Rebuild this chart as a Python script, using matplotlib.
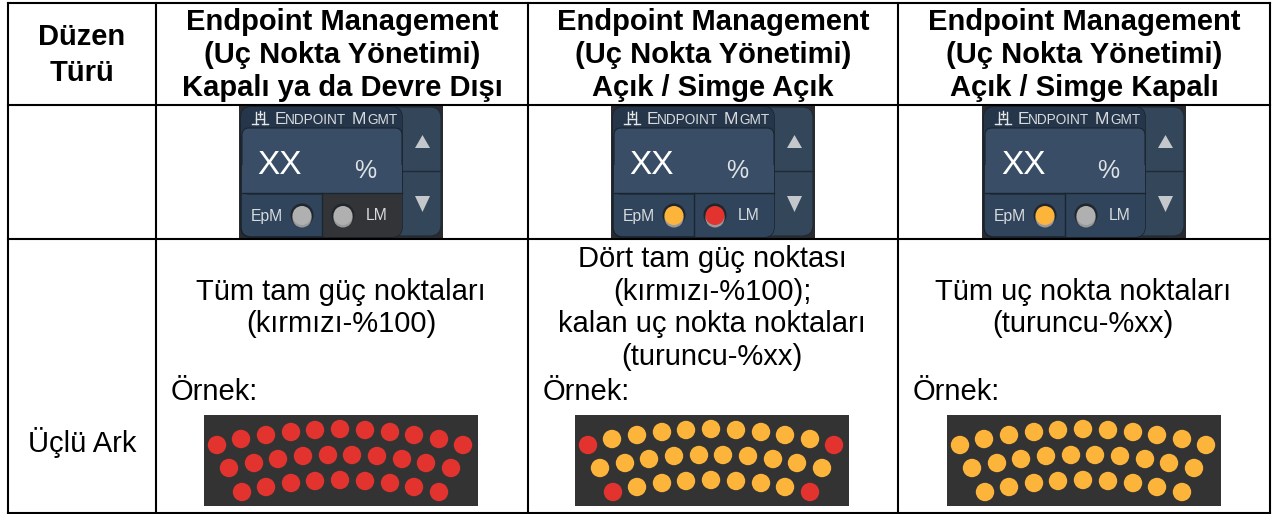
import matplotlib
matplotlib.use("Agg")
import matplotlib.pyplot as plt
from matplotlib.patches import FancyBboxPatch, Rectangle, Circle, Polygon

plt.rcParams["font.family"] = ["Liberation Sans", "DejaVu Sans"]

W, H = 1273, 514

# table grid (pixels)
col_x = [8, 156, 528, 898, 1270]
row_y = [3, 105, 239, 513]

col_titles = [
    "Düzen\nTürü",
    "Endpoint Management\n(Uç Nokta Yönetimi)\nKapalı ya da Devre Dışı",
    "Endpoint Management\n(Uç Nokta Yönetimi)\nAçık / Simge Açık",
    "Endpoint Management\n(Uç Nokta Yönetimi)\nAçık / Simge Kapalı",
]
title_spacing = [1.32, 1.24, 1.24, 1.24]
row_label = "Üçlü Ark"
descriptions = [
    "Tüm tam güç noktaları\n(kırmızı-%100)",
    "Dört tam güç noktası\n(kırmızı-%100);\nkalan uç nokta noktaları\n(turuncu-%xx)",
    "Tüm uç nokta noktaları\n(turuncu-%xx)",
]
example_label = "Örnek:"

# indicator lights of the widget: EpM, LM
GREY = "#b0b0b0"
ORANGE = "#fdb43a"
RED = "#e2332f"
widget_lights = [(GREY, GREY), (ORANGE, RED), (ORANGE, GREY)]
lm_panel = ["#333438", "#30445c", "#30445c"]

# dot positions in the arc picture, relative to its top left corner
row1_x = [13, 37, 62, 87, 111, 136, 161, 186, 210, 235, 259]
row1_y = [30, 24, 20, 17, 15, 14, 15, 17, 20, 24, 30]
row2_x = [25, 50, 74, 99, 124, 148, 173, 198, 222, 247]
row2_y = [53, 48, 44, 41, 40, 40, 41, 44, 48, 53]
row3_x = [38, 62, 87, 111, 136, 161, 186, 210, 235]
row3_y = [77, 72, 68, 66, 65, 66, 68, 72, 77]

# which dots are full power in each arc picture
red_all = [(r, i) for r, n in enumerate([11, 10, 9]) for i in range(n)]
red_corners = [(0, 0), (0, 10), (2, 0), (2, 8)]
red_none = []
arc_red = [red_all, red_corners, red_none]

arc_left = [204, 575, 947]
arc_top = 415
arc_w, arc_h = 274, 91
widget_left = [239, 611, 982]
widget_top = 105


def draw_widget(ax, x0, y0, lights, lm_color):
    ax.add_patch(Rectangle((x0, y0), 204, 133, fc="#2a2b2e", ec="none", zorder=2))
    # back plate with the arrows
    ax.add_patch(FancyBboxPatch((x0 + 60, y0 + 2), 142, 129, boxstyle="round,pad=0,rounding_size=11",
                                fc="#33465a", ec="#1f2a36", lw=0.8, zorder=3))
    ax.plot([x0 + 160, x0 + 202], [y0 + 66, y0 + 66], color="#1f2a36", lw=1, zorder=3)
    ax.add_patch(Polygon([(x0 + 176, y0 + 43), (x0 + 191, y0 + 43), (x0 + 183.5, y0 + 30)],
                         fc="#c4c8cc", ec="none", zorder=4))
    ax.add_patch(Polygon([(x0 + 176, y0 + 91), (x0 + 191, y0 + 91), (x0 + 183.5, y0 + 107)],
                         fc="#c4c8cc", ec="none", zorder=4))
    # main body
    body = FancyBboxPatch((x0 + 2, y0 + 2), 161, 130, boxstyle="round,pad=0,rounding_size=10",
                          fc="#30445c", ec="#17202b", lw=1, zorder=4)
    ax.add_patch(body)
    head = Rectangle((x0 + 2, y0 + 2), 161, 30, fc="#26364a", ec="none", zorder=4.5)
    ax.add_patch(head)
    head.set_clip_path(body)
    readout = FancyBboxPatch((x0 + 3, y0 + 23), 160, 66, boxstyle="round,pad=0,rounding_size=7",
                             fc="#394e66", ec="#1b2530", lw=0.8, zorder=5)
    ax.add_patch(readout)
    low = Rectangle((x0 + 3, y0 + 60), 160, 28, fc="#394e66", ec="none", zorder=5)
    ax.add_patch(low)
    ax.plot([x0 + 3, x0 + 163], [y0 + 88, y0 + 88], color="#1b2530", lw=1, zorder=6)
    lm = Rectangle((x0 + 83, y0 + 89), 80, 43, fc=lm_color, ec="none", zorder=5)
    ax.add_patch(lm)
    lm.set_clip_path(body)
    ax.plot([x0 + 83, x0 + 83], [y0 + 88, y0 + 131], color="#1b2530", lw=1, zorder=6)
    # title row icon
    icon = "#e4e6e8"
    ax.plot([x0 + 13, x0 + 19], [y0 + 19, y0 + 19], color=icon, lw=1, zorder=7)
    ax.plot([x0 + 23, x0 + 29], [y0 + 19, y0 + 19], color=icon, lw=1, zorder=7)
    ax.plot([x0 + 17, x0 + 17], [y0 + 7, y0 + 19], color=icon, lw=1, zorder=7)
    ax.plot([x0 + 25, x0 + 25], [y0 + 7, y0 + 19], color=icon, lw=1, zorder=7)
    ax.plot([x0 + 17, x0 + 25], [y0 + 14, y0 + 14], color=icon, lw=1, zorder=7)
    ax.plot([x0 + 21, x0 + 21], [y0 + 6, y0 + 12], color=icon, lw=1, zorder=7)
    ax.plot([x0 + 19, x0 + 23], [y0 + 9, y0 + 9], color=icon, lw=1, zorder=7)
    # title row
    ax.text(x0 + 36, y0 + 19.5, "E", color="#d8dbde", fontsize=12.5, ha="left", va="baseline", zorder=7)
    ax.text(x0 + 46, y0 + 19.5, "NDPOINT", color="#d8dbde", fontsize=9.8, ha="left", va="baseline", zorder=7)
    ax.text(x0 + 113, y0 + 19.5, "M", color="#d8dbde", fontsize=12.5, ha="left", va="baseline", zorder=7)
    ax.text(x0 + 128, y0 + 19.5, "GMT", color="#d8dbde", fontsize=9.8, ha="left", va="baseline", zorder=7)
    # readout
    ax.text(x0 + 41, y0 + 61, "XX", color="white", fontsize=24, ha="center", va="center", zorder=7)
    ax.text(x0 + 126, y0 + 66, "%", color="#dfe2e5", fontsize=18, ha="center", va="center", zorder=7)
    # lights
    ax.text(x0 + 28, y0 + 111, "EpM", color="#d8dbde", fontsize=11.3, ha="center", va="center", zorder=7)
    ax.text(x0 + 138, y0 + 111, "LM", color="#d8dbde", fontsize=11.3, ha="center", va="center", zorder=7)
    for cx, col in zip([x0 + 63, x0 + 104], lights):
        ax.add_patch(Circle((cx, y0 + 110), 11.5, fc="#20262c", ec="none", zorder=7))
        ax.add_patch(Circle((cx, y0 + 113), 9.5, fc="#9a9a9a", ec="none", zorder=7))
        ax.add_patch(Circle((cx, y0 + 110.5), 9.5, fc=col, ec="none", zorder=8))


def draw_arc(ax, x0, y0, red):
    ax.add_patch(Rectangle((x0, y0), arc_w, arc_h, fc="#333333", ec="none", zorder=2))
    rows = [(row1_x, row1_y), (row2_x, row2_y), (row3_x, row3_y)]
    for r, (xs, ys) in enumerate(rows):
        for i, (dx, dy) in enumerate(zip(xs, ys)):
            col = RED if (r, i) in red else ORANGE
            ax.add_patch(Circle((x0 + dx, y0 + dy), 9.2, fc=col, ec="none", zorder=3))


fig = plt.figure(figsize=(W / 100, H / 100), dpi=100)
ax = fig.add_axes([0, 0, 1, 1])
ax.set_xlim(0, W)
ax.set_ylim(H, 0)
ax.axis("off")

for i in range(4):
    cx = (col_x[i] + col_x[i + 1]) / 2
    ax.text(cx, 55, col_titles[i], fontsize=21, fontweight="bold", ha="center", va="center",
            linespacing=title_spacing[i], color="black")

ax.text(col_x[0] + 74, 443, row_label, fontsize=21, ha="center", va="center")

desc_y = [308, 308, 308]
for i in range(3):
    cx = (col_x[i + 1] + col_x[i + 2]) / 2 - 1
    ax.text(cx, desc_y[i], descriptions[i], fontsize=21, ha="center", va="center", linespacing=1.2)
    ax.text(col_x[i + 1] + 15, 392, example_label, fontsize=21, ha="left", va="center")
    draw_widget(ax, widget_left[i], widget_top, widget_lights[i], lm_panel[i])
    draw_arc(ax, arc_left[i], arc_top, arc_red[i])

# grid on top
for x in col_x:
    ax.plot([x, x], [row_y[0], row_y[-1]], color="black", lw=1.5, zorder=10, solid_capstyle="projecting")
for y in row_y:
    ax.plot([col_x[0], col_x[-1]], [y, y], color="black", lw=1.5, zorder=10, solid_capstyle="projecting")

fig.savefig("out.png", dpi=100)
